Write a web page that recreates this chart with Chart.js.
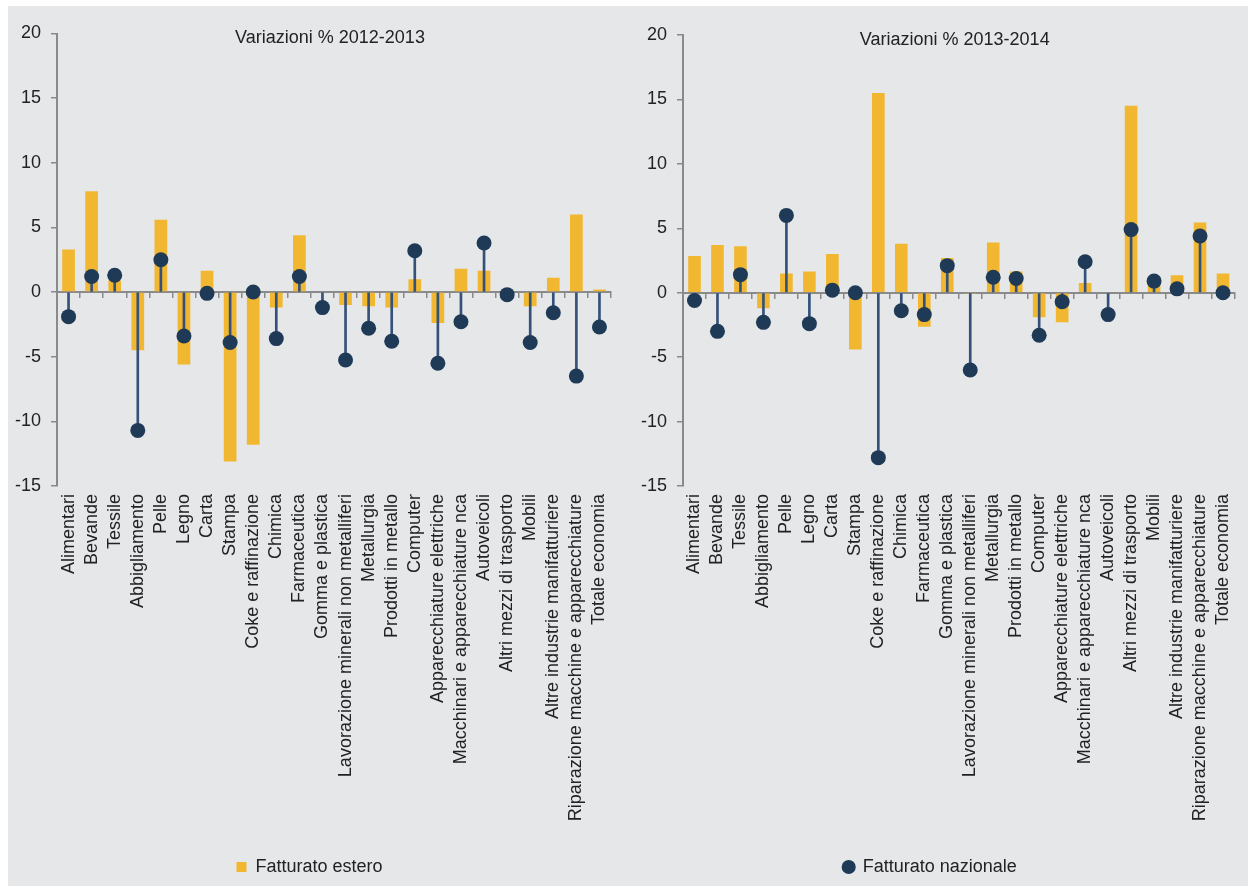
<!DOCTYPE html>
<html>
<head>
<meta charset="utf-8">
<script src="https://cdn.jsdelivr.net/npm/chart.js@4"></script>
<style>
  body{ margin:0; background:#fff; font-family:"Liberation Sans", Arial, sans-serif; }
  #panel{ position:absolute; left:8px; top:6px; width:1240px; height:880px; background:#e6e7e9; }
  #left{ position:absolute; left:0; top:0; }
  #right{ position:absolute; left:618px; top:0; }
</style>
</head>
<body>
<div id="panel">
  <canvas id="left" width="618" height="880"></canvas>
  <canvas id="right" width="622" height="880"></canvas>
</div>
<script>
const labels = ["Alimentari","Bevande","Tessile","Abbigliamento","Pelle","Legno","Carta","Stampa",
  "Coke e raffinazione","Chimica","Farmaceutica","Gomma e plastica","Lavorazione minerali non metalliferi",
  "Metallurgia","Prodotti in metallo","Computer","Apparecchiature elettriche",
  "Macchinari e apparecchiature nca","Autoveicoli","Altri mezzi di trasporto","Mobili",
  "Altre industrie manifatturiere","Riparazione macchine e apparecchiature","Totale economia"];

// Variazioni % 2012-2013
const estero1213    = [3.3, 7.8, 0.9, -4.5, 5.6, -5.6, 1.65, -13.1, -11.8, -1.2, 4.4, 0, -1.0, -1.1, -1.2, 1.0, -2.4, 1.8, 1.65, -0.4, -1.1, 1.1, 6.0, 0.2];
const nazionale1213 = [-1.9, 1.2, 1.3, -10.7, 2.5, -3.4, -0.1, -3.9, 0.0, -3.6, 1.2, -1.2, -5.25, -2.8, -3.8, 3.2, -5.5, -2.3, 3.8, -0.2, -3.9, -1.6, -6.5, -2.7];

// Variazioni % 2013-2014
const estero1314    = [2.85, 3.7, 3.6, -1.2, 1.5, 1.65, 3.0, -4.4, 15.5, 3.8, -2.65, 2.7, -0.05, 3.9, 1.65, -1.9, -2.3, 0.75, 0, 14.5, 1.25, 1.35, 5.45, 1.5];
const nazionale1314 = [-0.6, -3.0, 1.4, -2.3, 6.0, -2.4, 0.2, 0.0, -12.8, -1.4, -1.7, 2.1, -6.0, 1.2, 1.1, -3.3, -0.7, 2.4, -1.7, 4.9, 0.9, 0.3, 4.4, 0.0];

const Y_MIN = -15, Y_MAX = 20, Y_STEP = 5;

const YELLOW = "#f2b730", NAVY = "#1e3a56", STEM = "#34517a", AXIS = "#8a8a8a", TEXT = "#222";

// title drawn inside the plot area, like the original
const innerTitle = {
  id: "innerTitle",
  afterDraw(chart, args, opts){
    const {ctx, chartArea} = chart;
    ctx.save();
    ctx.font = "18px 'Liberation Sans', Arial, sans-serif";
    ctx.fillStyle = TEXT;
    ctx.textAlign = "center";
    ctx.textBaseline = "middle";
    ctx.fillText(opts.text, (chartArea.left + chartArea.right)/2 - 4, chartArea.top + 5);
    ctx.restore();
  }
};

function makeChart(id, title, estero, nazionale, legendName, geo){
  return new Chart(document.getElementById(id), {
    data: {
      labels,
      datasets: [
        { type:"line", label:"Fatturato nazionale", data:nazionale, showLine:false,
          pointRadius:7.5, pointHoverRadius:7.5, pointBackgroundColor:NAVY, backgroundColor:NAVY,
          pointBorderWidth:0, borderColor:NAVY, order:0, xAxisID:"x", yAxisID:"y" },
        { type:"bar", label:"stem", data:nazionale.map(v=>[0, v]), backgroundColor:STEM,
          barThickness:2, grouped:false, order:1, xAxisID:"x", yAxisID:"y" },
        { type:"bar", label:"Fatturato estero", data:estero, backgroundColor:YELLOW,
          barPercentage:0.55, categoryPercentage:1, grouped:false, order:2, xAxisID:"x", yAxisID:"y" }
      ]
    },
    options: {
      responsive:false,
      animation:false,
      devicePixelRatio:1,
      layout:{ padding:{ top:geo.top, right:geo.right, left:0, bottom:0 } },
      plugins:{
        tooltip:{ enabled:false },
        innerTitle:{ text:title },
        legend:{
          position:"bottom",
          labels:{
            filter:(item)=> item.text === legendName,
            color:TEXT,
            font:{ family:"'Liberation Sans', Arial, sans-serif", size:18 },
            boxWidth:10, boxHeight:10,
            usePointStyle: legendName === "Fatturato nazionale",
            padding:10
          }
        }
      },
      scales:{
        x:{
          type:"category",
          position:"bottom",
          offset:true,
          grid:{ display:false },
          border:{ display:false },
          ticks:{ autoSkip:false, minRotation:90, maxRotation:90, padding:0, color:TEXT,
                  font:{ family:"'Liberation Sans', Arial, sans-serif", size:18 } },
          afterFit(s){ s.height = geo.xh; }
        },
        x2:{
          type:"category",
          position:{ y:0 },
          offset:true,
          grid:{ display:true, offset:true, drawOnChartArea:false, drawTicks:true, tickLength:5,
                 color:AXIS, lineWidth:1.5 },
          border:{ display:true, color:AXIS, width:2 },
          ticks:{ display:false }
        },
        y:{
          type:"linear",
          min:Y_MIN, max:Y_MAX,
          grid:{ display:true, drawOnChartArea:false, drawTicks:true, tickLength:6, color:AXIS, lineWidth:1.5 },
          border:{ display:true, color:AXIS, width:2 },
          ticks:{ stepSize:Y_STEP, padding:10, color:TEXT,
                  font:{ family:"'Liberation Sans', Arial, sans-serif", size:18 } },
          afterFit(s){ s.width = geo.yw; }
        }
      }
    },
    plugins:[innerTitle]
  });
}

makeChart("left", "Variazioni % 2012-2013", estero1213, nazionale1213, "Fatturato estero",
  { top:27.5, right:15, yw:49, xh:362 });
makeChart("right", "Variazioni % 2013-2014", estero1314, nazionale1314, "Fatturato nazionale",
  { top:29, right:13.5, yw:57, xh:362 });
</script>
</body>
</html>
